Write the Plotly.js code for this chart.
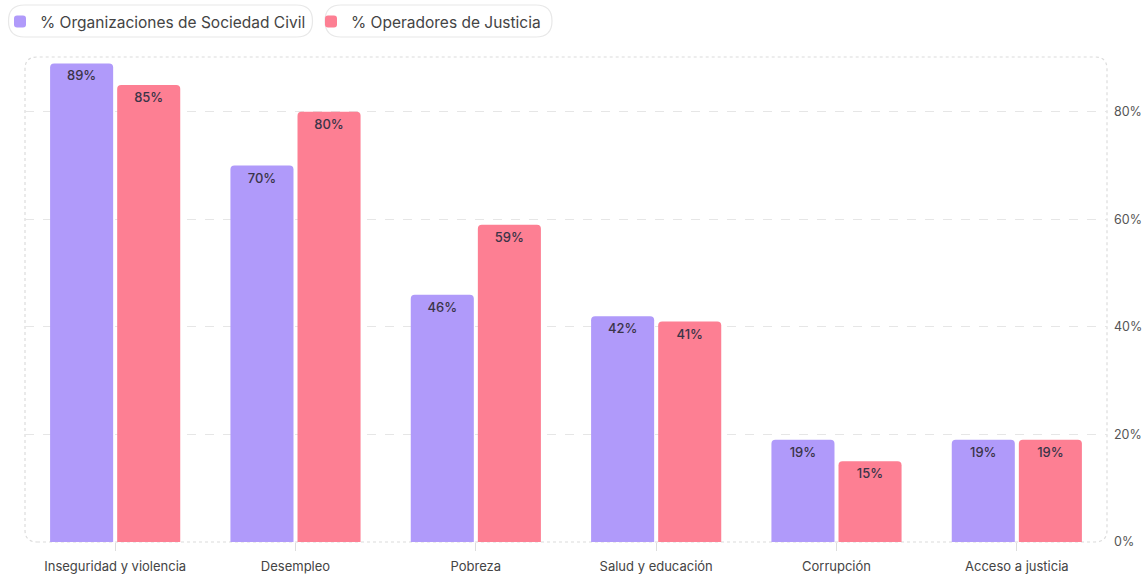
<!DOCTYPE html>
<html>
<head>
<meta charset="utf-8">
<script src="https://cdn.plot.ly/plotly-3.0.1.min.js"></script>
<style>html,body{margin:0;padding:0;background:#fff;}#chart{width:1145px;height:583px;}</style>
</head>
<body>
<div id="chart"></div>
<script>
var categories = ["Inseguridad y violencia", "Desempleo", "Pobreza", "Salud y educación", "Corrupción", "Acceso a justicia"];
var seriesNames = ["% Organizaciones de Sociedad Civil", "% Operadores de Justicia"];
var osc = [89, 70, 46, 42, 19, 19];
var oj = [85, 80, 59, 41, 15, 19];
var yTicks = [0, 20, 40, 60, 80];
var yTickLabels = ["0%", "20%", "40%", "60%", "80%"];

var W = 1145, H = 583;
var M = {l: 25, r: 38, t: 57, b: 41};
var PW = W - M.l - M.r, PH = H - M.t - M.b;
function px2x(p){ return (p - M.l) / PW; }
function py2y(p){ return 1 - (p - M.t) / PH; }
function roundRect(w, h, r){
  var x0 = -w/2, x1 = w/2, y0 = -h/2, y1 = h/2;
  return 'M' + (x0+r) + ',' + y0 + ' L' + (x1-r) + ',' + y0 + ' Q' + x1 + ',' + y0 + ' ' + x1 + ',' + (y0+r) +
    ' L' + x1 + ',' + (y1-r) + ' Q' + x1 + ',' + y1 + ' ' + (x1-r) + ',' + y1 +
    ' L' + (x0+r) + ',' + y1 + ' Q' + x0 + ',' + y1 + ' ' + x0 + ',' + (y1-r) +
    ' L' + x0 + ',' + (y0+r) + ' Q' + x0 + ',' + y0 + ' ' + (x0+r) + ',' + y0 + ' Z';
}
function pill(cx, cy, w, h, r, color, dash, fill){
  return {type: 'path', xref: 'paper', yref: 'paper', xsizemode: 'pixel', ysizemode: 'pixel',
    xanchor: px2x(cx), yanchor: py2y(cy), path: roundRect(w, h, r),
    line: {color: color, width: 1.2, dash: dash || 'solid'}, fillcolor: fill || 'rgba(0,0,0,0)', layer: 'below'};
}

var labelFont = {family: 'Inter, "Open Sans", sans-serif', size: 13, color: '#3a3448', weight: 500};
var traces = [
  {type: 'bar', name: seriesNames[0], x: categories, y: osc,
   text: osc.map(function(v){return v + '%';}), textposition: 'inside', insidetextanchor: 'end',
   textangle: 0, insidetextfont: labelFont, constraintext: 'none',
   marker: {color: '#b09afa', cornerradius: 4}, hoverinfo: 'skip'},
  {type: 'bar', name: seriesNames[1], x: categories, y: oj,
   text: oj.map(function(v){return v + '%';}), textposition: 'inside', insidetextanchor: 'end',
   textangle: 0, insidetextfont: labelFont, constraintext: 'none',
   marker: {color: '#fd7f93', cornerradius: 4}, hoverinfo: 'skip'}
];

var layout = {
  width: W, height: H,
  margin: M,
  paper_bgcolor: '#fff', plot_bgcolor: '#fff',
  font: {family: 'Inter, "Open Sans", sans-serif', color: '#444'},
  barmode: 'group', bargap: 0.256, bargroupgap: 0.06,
  showlegend: true,
  legend: {orientation: 'h', xref: 'container', yref: 'container', x: 0, y: 1 - 5/H,
    xanchor: 'left', yanchor: 'top', font: {size: 15.5, color: '#444'}, entrywidth: 266,
    bgcolor: 'rgba(0,0,0,0)', itemclick: false},
  xaxis: {type: 'category', showgrid: false, zeroline: false, showline: false,
    ticks: 'outside', ticklen: 8, tickcolor: '#dddddd', tickwidth: 1, ticklabelstandoff: 4,
    tickfont: {size: 13, color: '#444'}, fixedrange: true},
  yaxis: {side: 'right', range: [0, 90.2], tickmode: 'array', tickvals: yTicks, ticktext: yTickLabels,
    showgrid: true, gridcolor: '#e6e6e6', griddash: 'dash', gridwidth: 1,
    zeroline: false, showline: false, ticks: '', ticklabelstandoff: 6,
    tickfont: {size: 12.5, color: '#555'}, fixedrange: true},
  shapes: [
    pill(160.5, 21, 304, 32, 16, '#e8e8e8'),
    pill(438.5, 21, 227, 32, 16, '#e8e8e8'),
    pill(M.l + PW/2, M.t + PH/2, PW, PH, 12, '#dcdcdc', 'dot')
  ]
};

Plotly.newPlot('chart', traces, layout, {displayModeBar: false, staticPlot: true});
</script>
</body>
</html>
